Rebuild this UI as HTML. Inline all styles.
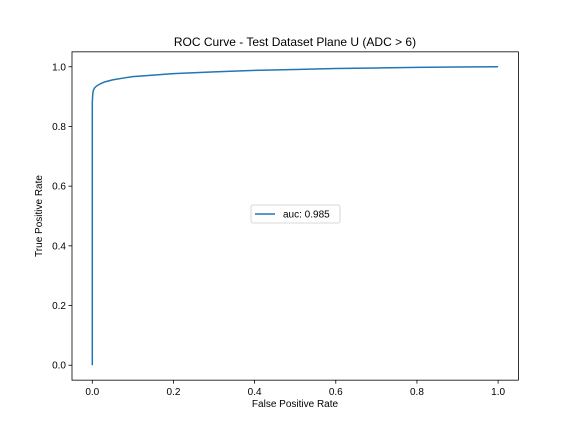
<!DOCTYPE html>
<html><head><meta charset="utf-8"><style>
body{margin:0;background:#fff;}
text{font-family:"Liberation Sans","DejaVu Sans",sans-serif;fill:#000;}
</style></head><body>
<svg id="chart" width="576" height="432" xmlns="http://www.w3.org/2000/svg">
<rect width="576" height="432" fill="#fff"/>
<text x="295" y="46" font-size="12" text-anchor="middle">ROC Curve - Test Dataset Plane U (ADC &gt; 6)</text>
<g id="axes"></g>
<text x="295" y="407" font-size="10" text-anchor="middle">False Positive Rate</text>
<text x="0" y="0" font-size="10" text-anchor="middle" transform="translate(42,216) rotate(-90)">True Positive Rate</text>
</svg>
<script>
const fprValues=[0,0,0.001,0.002,0.005,0.01,0.02,0.03,0.05,0.08,0.1,0.15,0.2,0.3,0.4,0.5,0.6,0.7,0.8,0.9,1.0];
const tprValues=[0,0.88,0.905,0.918,0.928,0.935,0.943,0.949,0.956,0.963,0.967,0.972,0.977,0.983,0.988,0.991,0.994,0.996,0.998,0.999,1.0];
const xTicks=[0,0.2,0.4,0.6,0.8,1.0];
const yTicks=[0,0.2,0.4,0.6,0.8,1.0];
const legendLabel="auc: 0.985";
const L=72,R=518.4,T=51.84,B=380.16;
const sx=v=>L+(v+0.05)/1.1*(R-L);
const sy=v=>B-(v+0.05)/1.1*(B-T);
const NS="http://www.w3.org/2000/svg";
const svg=document.getElementById('chart');
const g=document.getElementById('axes');
function mk(t,a,p){const e=document.createElementNS(NS,t);for(const k in a)e.setAttribute(k,a[k]);(p||g).appendChild(e);return e;}
xTicks.forEach(v=>{
 const l=mk('line',{x1:sx(v),x2:sx(v),y1:B,y2:B+3.5,stroke:'#000','stroke-width':0.8});
 
 
 const t=mk('text',{x:sx(v),y:B+15,'font-size':10,'text-anchor':'middle'});t.textContent=v.toFixed(1);
 
 
});
yTicks.forEach(v=>{
 const l=mk('line',{x1:L-3.5,x2:L,y1:sy(v),y2:sy(v),stroke:'#000','stroke-width':0.8});
 
 
 const t=mk('text',{x:L-6,y:sy(v)+3.5,'font-size':10,'text-anchor':'end'});t.textContent=v.toFixed(1);
 
 
});
const pts=fprValues.map((f,i)=>sx(f).toFixed(2)+','+sy(tprValues[i]).toFixed(2)).join(' ');
const line=mk('polyline',{points:pts,fill:'none',stroke:'#1f77b4','stroke-width':1.5});


const frame=mk('rect',{x:L,y:T,width:R-L,height:B-T,fill:'none',stroke:'#000','stroke-width':0.8});


const lg=mk('g',{});


mk('rect',{x:251,y:205,width:89,height:18,rx:2,fill:'#fff',stroke:'#ccc','stroke-width':0.8},lg);
mk('line',{x1:255,x2:275,y1:214,y2:214,stroke:'#1f77b4','stroke-width':1.5},lg);
const lt=mk('text',{x:283,y:217.5,'font-size':10},lg);lt.textContent=legendLabel;


</script>
</body></html>
